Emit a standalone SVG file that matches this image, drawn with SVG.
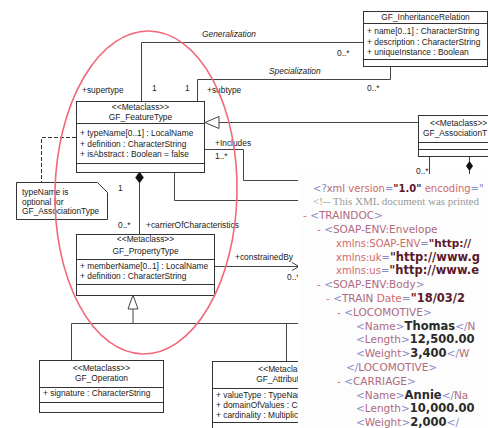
<svg xmlns="http://www.w3.org/2000/svg" width="488" height="428" viewBox="0 0 488 428">
<style>
  .box { fill: #fff; stroke: #333; stroke-width: 1; }
  .sep { fill: none; stroke: #333; stroke-width: 1; }
  .ln { fill: none; stroke: #444; stroke-width: 1; }
  .dash { fill: none; stroke: #333; stroke-width: 1; stroke-dasharray: 4 2; }
  text { font-family: "Liberation Sans", Arial, sans-serif; font-size: 8.4px; fill: #222; }
  .c { text-anchor: middle; }
  .it { font-style: italic; }
  .x { font-family: "DejaVu Sans", Verdana, sans-serif; font-size: 10.5px; fill: #b06a80; }
  .m { fill: #8a8ac4; }
  .a { fill: #d06a6a; }
  .v { fill: #5a1a2a; font-weight: bold; font-size: 11.5px; }
  .t { fill: #2a2a2a; font-weight: bold; font-size: 11.5px; }
  .d { fill: #e07070; }
  .cm { font-family: "Liberation Serif", "Times New Roman", serif; fill: #9a9a9a; font-size: 11px; }
  .hl { fill: none; stroke: #f06a7a; stroke-width: 1.6; }
</style>
<defs>
  <clipPath id="clipL"><rect x="0" y="0" width="298" height="428"/></clipPath>
</defs>
<rect x="0" y="0" width="488" height="428" fill="#fff"/>

<g id="connectors">
  <polyline class="ln" points="141.5,101 141.5,42.5 363,42.5"/>
  <polyline class="ln" points="197.5,101 197.5,79.5 390.5,79.5 390.5,66"/>
  <line class="ln" x1="219" y1="122.5" x2="418" y2="122.5"/>
  <polygon points="205,122.5 219,116.5 219,128.5" fill="#fff" stroke="#444" stroke-width="1"/>
  <polyline class="ln" points="205,149.5 243.5,149.5 243.5,180.5 300,180.5"/>
  <polyline class="ln" points="174.5,172 174.5,200.5 300,200.5"/>
  <line class="ln" x1="429.5" y1="156" x2="429.5" y2="180"/>
  <line class="ln" x1="469.5" y1="156" x2="469.5" y2="180"/>
  <polygon points="469.5,161 473,166 469.5,171 466,166" fill="#111"/>
  <polygon points="139.5,172 143.5,177.5 139.5,183 135.5,177.5" fill="#111" stroke="#111" stroke-width="0.5"/>
  <line class="ln" x1="139.5" y1="183" x2="139.5" y2="234"/>
  <polyline class="dash" points="76,137.5 41.5,137.5 41.5,182"/>
  <line class="ln" x1="214" y1="266.5" x2="299" y2="266.5"/>
  <polyline class="ln" points="292,262.5 299,266.5 292,270.5"/>
  <polygon points="133,295 138,309 128,309" fill="#fff" stroke="#444" stroke-width="1"/>
  <line class="ln" x1="133" y1="309" x2="133" y2="323.5"/>
  <line class="ln" x1="71.5" y1="323.5" x2="300" y2="323.5"/>
  <line class="ln" x1="71.5" y1="323.5" x2="71.5" y2="360"/>
  <line class="ln" x1="286.5" y1="323.5" x2="286.5" y2="361"/>

  <text x="202" y="37" class="it">Generalization</text>
  <text x="337" y="56">0..*</text>
  <text x="152" y="91">1</text>
  <text x="82" y="93">+supertype</text>
  <text x="269" y="74" class="it">Specialization</text>
  <text x="367" y="91">0..*</text>
  <text x="185" y="91">1</text>
  <text x="207" y="93">+subtype</text>
  <text x="215" y="146">+Includes</text>
  <text x="215" y="159">1..*</text>
  <text x="416" y="174">0..*</text>
  <text x="118" y="191">1</text>
  <text x="118" y="228">0..*</text>
  <text x="146" y="228">+carrierOfCharacteristics</text>
  <text x="235" y="260">+constrainedBy</text>
  <text x="287" y="280">0..*</text>
</g>

<g id="GF_InheritanceRelation">
  <rect class="box" x="363.5" y="11.5" width="124" height="55"/>
  <line class="sep" x1="363.5" y1="23.5" x2="487.5" y2="23.5"/>
  <line class="sep" x1="363.5" y1="59.5" x2="487.5" y2="59.5"/>
  <text x="425.5" y="19.5" class="c">GF_InheritanceRelation</text>
  <text x="367" y="34">+ name[0..1] : CharacterString</text>
  <text x="367" y="44.5">+ description : CharacterString</text>
  <text x="367" y="55">+ uniqueInstance : Boolean</text>
</g>

<g id="GF_FeatureType">
  <rect class="box" x="76.5" y="101.5" width="128" height="71"/>
  <line class="sep" x1="76.5" y1="123.5" x2="204.5" y2="123.5"/>
  <line class="sep" x1="76.5" y1="163.5" x2="204.5" y2="163.5"/>
  <text x="140.5" y="109.5" class="c">&lt;&lt;Metaclass&gt;&gt;</text>
  <text x="140.5" y="119.5" class="c">GF_FeatureType</text>
  <text x="80" y="136">+ typeName[0..1] : LocalName</text>
  <text x="80" y="146.5">+ definition : CharacterString</text>
  <text x="80" y="157">+ isAbstract : Boolean = false</text>
</g>

<g id="GF_AssociationType">
  <rect class="box" x="418.5" y="115.5" width="100" height="41"/>
  <line class="sep" x1="418.5" y1="142.5" x2="518.5" y2="142.5"/>
  <line class="sep" x1="418.5" y1="149.5" x2="518.5" y2="149.5"/>
  <text x="430" y="126">&lt;&lt;Metaclass&gt;&gt;</text>
  <text x="423" y="136">GF_AssociationT</text>
</g>

<g id="note">
  <polygon class="box" points="16.5,182.5 97.5,182.5 107.5,192.5 107.5,219.5 16.5,219.5"/>
  <text x="22" y="195">typeName is</text>
  <text x="22" y="204.5">optional for</text>
  <text x="22" y="214">GF_AssociationType</text>
</g>

<g id="GF_PropertyType">
  <rect class="box" x="76.5" y="234.5" width="138" height="61"/>
  <line class="sep" x1="76.5" y1="259.5" x2="214.5" y2="259.5"/>
  <line class="sep" x1="76.5" y1="284.5" x2="214.5" y2="284.5"/>
  <text x="145.5" y="242" class="c">&lt;&lt;Metaclass&gt;&gt;</text>
  <text x="145.5" y="254" class="c">GF_PropertyType</text>
  <text x="80" y="269">+ memberName[0..1] : LocalName</text>
  <text x="80" y="279">+ definition : CharacterString</text>
</g>

<g id="GF_Operation">
  <rect class="box" x="39.5" y="360.5" width="124" height="52"/>
  <line class="sep" x1="39.5" y1="387.5" x2="163.5" y2="387.5"/>
  <line class="sep" x1="39.5" y1="402.5" x2="163.5" y2="402.5"/>
  <text x="101.5" y="371" class="c">&lt;&lt;Metaclass&gt;&gt;</text>
  <text x="101.5" y="381" class="c">GF_Operation</text>
  <text x="43" y="396">+ signature : CharacterString</text>
</g>

<g id="GF_AttributeType" clip-path="url(#clipL)">
  <rect class="box" x="212.5" y="361.5" width="150" height="80"/>
  <line class="sep" x1="212.5" y1="388.5" x2="362.5" y2="388.5"/>
  <line class="sep" x1="212.5" y1="422.5" x2="362.5" y2="422.5"/>
  <text x="287" y="372" class="c">&lt;&lt;Metaclass&gt;&gt;</text>
  <text x="289" y="382" class="c">GF_AttributeType</text>
  <text x="216" y="398">+ valueType : TypeName</text>
  <text x="216" y="408">+ domainOfValues : CharacterString</text>
  <text x="216" y="418">+ cardinality : Multiplicity</text>
</g>

<g id="xml-view">
  <rect x="298" y="174" width="190" height="254" fill="#fdfdfd"/>
  <text class="x" x="313" y="191.5" style="font-size:10px"><tspan class="m">&lt;?</tspan>xml <tspan class="a">version</tspan><tspan class="m">=</tspan><tspan class="v" style="font-size:10px">"1.0"</tspan> <tspan class="a">encoding</tspan><tspan class="m">="</tspan></text>
  <text class="x cm" x="313" y="205.3">&lt;!-- This XML document was printed</text>
  <text class="x" x="303" y="219.1"><tspan class="d">-</tspan> <tspan class="m">&lt;</tspan>TRAINDOC<tspan class="m">&gt;</tspan></text>
  <text class="x" x="317" y="232.9"><tspan class="d">-</tspan> <tspan class="m">&lt;</tspan>SOAP-ENV:Envelope</text>
  <text class="x" x="336" y="246.7" style="font-size:10px"><tspan class="a">xmlns:SOAP-ENV</tspan><tspan class="m">=</tspan><tspan class="v" style="font-size:10.5px">"http://</tspan></text>
  <text class="x" x="336" y="260.5" style="font-size:10px"><tspan class="a">xmlns:uk</tspan><tspan class="m">=</tspan><tspan class="v">"http://www.g</tspan></text>
  <text class="x" x="336" y="274.3" style="font-size:10px"><tspan class="a">xmlns:us</tspan><tspan class="m">=</tspan><tspan class="v">"http://www.e</tspan></text>
  <text class="x" x="317" y="288.1"><tspan class="d">-</tspan> <tspan class="m">&lt;</tspan>SOAP-ENV:Body<tspan class="m">&gt;</tspan></text>
  <text class="x" x="326" y="301.9"><tspan class="d">-</tspan> <tspan class="m">&lt;</tspan>TRAIN <tspan class="a">Date</tspan><tspan class="m">=</tspan><tspan class="v">"18/03/2</tspan></text>
  <text class="x" x="337" y="315.7"><tspan class="d">-</tspan> <tspan class="m">&lt;</tspan>LOCOMOTIVE<tspan class="m">&gt;</tspan></text>
  <text class="x" x="356" y="329.5"><tspan class="m">&lt;</tspan>Name<tspan class="m">&gt;</tspan><tspan class="t">Thomas</tspan><tspan class="m">&lt;/</tspan>N</text>
  <text class="x" x="356" y="343.3"><tspan class="m">&lt;</tspan>Length<tspan class="m">&gt;</tspan><tspan class="t">12,500.00</tspan></text>
  <text class="x" x="356" y="357.1"><tspan class="m">&lt;</tspan>Weight<tspan class="m">&gt;</tspan><tspan class="t">3,400</tspan><tspan class="m">&lt;/</tspan>W</text>
  <text class="x" x="346" y="370.9"><tspan class="m">&lt;/</tspan>LOCOMOTIVE<tspan class="m">&gt;</tspan></text>
  <text class="x" x="337" y="384.7"><tspan class="d">-</tspan> <tspan class="m">&lt;</tspan>CARRIAGE<tspan class="m">&gt;</tspan></text>
  <text class="x" x="356" y="398.5"><tspan class="m">&lt;</tspan>Name<tspan class="m">&gt;</tspan><tspan class="t">Annie</tspan><tspan class="m">&lt;/</tspan>Na</text>
  <text class="x" x="356" y="412.3"><tspan class="m">&lt;</tspan>Length<tspan class="m">&gt;</tspan><tspan class="t">10,000.00</tspan></text>
  <text class="x" x="356" y="426.1"><tspan class="m">&lt;</tspan>Weight<tspan class="m">&gt;</tspan><tspan class="t">2,000</tspan><tspan class="m">&lt;/</tspan></text>
</g>

<ellipse class="hl" cx="146" cy="192.5" rx="91" ry="161.5" transform="rotate(1.2 146 192.5)"/>
</svg>
